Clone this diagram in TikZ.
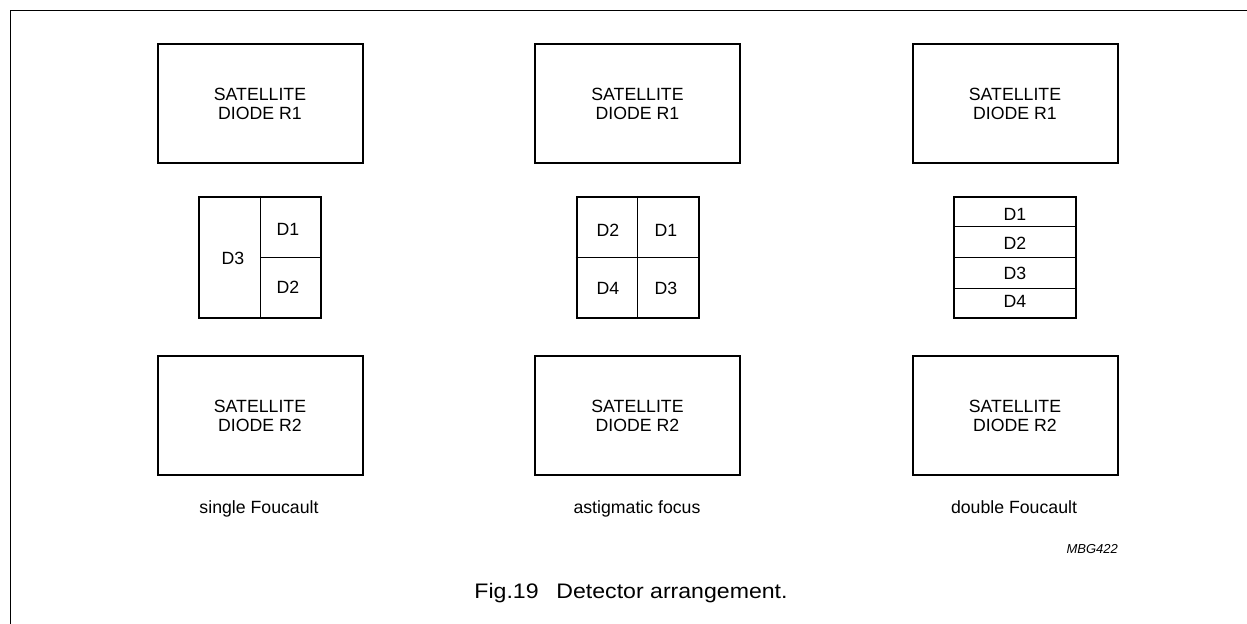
\documentclass[tikz,border=0pt]{standalone}
\usepackage{fontspec}
\setmainfont{Liberation Sans}
\newfontfamily\capfont[FakeStretch=1.1]{Liberation Sans}
\usetikzlibrary{calc}
\begin{document}
\begin{tikzpicture}[x=1bp,y=-1bp,
  satbox/.style={draw,line width=2bp,minimum width=205bp,minimum height=119bp,inner sep=0pt,align=center,font=\fontsize{17.7bp}{19bp}\selectfont},
  detbox/.style={draw,line width=2bp,minimum width=122bp,minimum height=121bp,inner sep=0pt},
  divider/.style={line width=1bp},
  dlabel/.style={inner sep=0pt,font=\fontsize{17.7bp}{19bp}\selectfont},
  sublabel/.style={inner sep=0pt,anchor=base,font=\fontsize{17.7bp}{19bp}\selectfont}]
\useasboundingbox (0,0) rectangle (1247,624);
\draw[line width=1.6bp] (10.5,624) -- (10.5,10.5) -- (1247,10.5);

% satellite diodes
\node[satbox] (r1a) at (260,103.5) {SATELLITE\\DIODE R1};
\node[satbox] (r1b) at (637.5,103.5) {SATELLITE\\DIODE R1};
\node[satbox] (r1c) at (1015,103.5) {SATELLITE\\DIODE R1};
\node[satbox] (r2a) at (260,415.5) {SATELLITE\\DIODE R2};
\node[satbox] (r2b) at (637.5,415.5) {SATELLITE\\DIODE R2};
\node[satbox] (r2c) at (1015,415.5) {SATELLITE\\DIODE R2};

% single Foucault detector
\node[detbox] (da) at (260,257.5) {};
\draw[divider] (da.north) -- (da.south);
\draw[divider] (da.center) -- (da.east);
\node[dlabel] (da3) at (233,258) {D3};
\node[dlabel] (da1) at (288,229.5) {D1};
\node[dlabel] (da2) at (288,287.5) {D2};

% astigmatic focus detector
\node[detbox] (db) at (637.5,257.5) {};
\draw[divider] (db.north) -- (db.south);
\draw[divider] (db.west) -- (db.east);
\node[dlabel] (db2) at (608,230) {D2};
\node[dlabel] (db1) at (666,230) {D1};
\node[dlabel] (db4) at (608,288) {D4};
\node[dlabel] (db3) at (666,288) {D3};

% double Foucault detector
\node[detbox] (dc) at (1015,257.5) {};
\draw[divider] ($(dc.north west)!0.25!(dc.south west)$) -- ($(dc.north east)!0.25!(dc.south east)$);
\draw[divider] (dc.west) -- (dc.east);
\draw[divider] ($(dc.north west)!0.75!(dc.south west)$) -- ($(dc.north east)!0.75!(dc.south east)$);
\node[dlabel] (dc1) at (1015,214) {D1};
\node[dlabel] (dc2) at (1015,243.5) {D2};
\node[dlabel] (dc3) at (1015,273) {D3};
\node[dlabel] (dc4) at (1015,301.5) {D4};

% captions
\node[sublabel] (ca) at (259,513) {single Foucault};
\node[sublabel] (cb) at (637,513) {astigmatic focus};
\node[sublabel] (cc) at (1014,513) {double Foucault};
\node[inner sep=0pt,anchor=base east,font=\fontsize{13bp}{15bp}\selectfont\itshape] (code) at (1118,553) {MBG422};
\node[inner sep=0pt,anchor=base,font=\capfont\fontsize{21bp}{24bp}\selectfont] (fig) at (631,598) {Fig.19\hspace{0.85em}Detector arrangement.};
\end{tikzpicture}
\end{document}
